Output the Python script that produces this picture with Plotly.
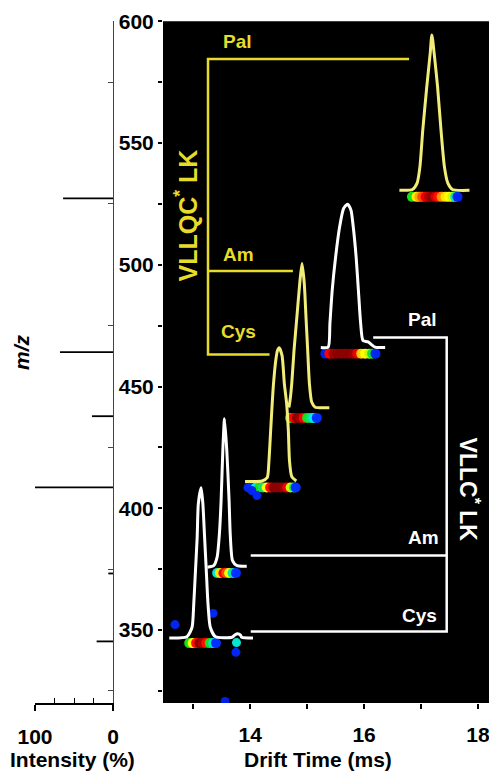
import plotly.graph_objects as go

# ---------------- data ----------------
# Mass spectrum (left panel)
ms_mz = [527.3, 464.1, 437.8, 408.6, 373.2, 345.3]
ms_intensity = [64, 68, 27, 100, 6, 21]

# Arrival-time profiles (drift time in ms, signal drawn in m/z axis units)
yel_pal_t = [16.62, 16.85, 16.93, 16.98, 17.03, 17.10, 17.16, 17.19, 17.23, 17.29, 17.35, 17.41, 17.47, 17.55, 17.85]
yel_pal_y = [530.6, 530.9, 533.5, 540.2, 555.3, 573.1, 586.8, 594.4, 586.8, 573.1, 555.3, 540.2, 533.5, 530.9, 530.6]

wht_pal_t = [15.24, 15.37, 15.40, 15.44, 15.50, 15.57, 15.64, 15.71, 15.77, 15.81, 15.86, 15.90, 15.94, 15.98, 16.07, 16.19, 16.37]
wht_pal_y = [466.0, 466.2, 475.8, 489.5, 503.2, 515.5, 523.1, 524.9, 522.4, 515.5, 503.2, 489.5, 475.8, 468.9, 468.3, 466.2, 466.0]

yel_am_t = [14.68, 14.70, 14.73, 14.77, 14.82, 14.87, 14.91, 14.95, 14.98, 15.01, 15.04, 15.08, 15.14, 15.39]
yel_am_y = [441.4, 444.3, 451.2, 464.8, 478.5, 492.3, 500.5, 492.3, 478.5, 464.8, 451.2, 443.6, 441.5, 441.3]

yel_cys_t = [13.91, 14.21, 14.30, 14.33, 14.36, 14.39, 14.41, 14.45, 14.48, 14.51, 14.56, 14.60, 14.64, 14.67, 14.69, 14.73, 14.81]
yel_cys_y = [411.0, 411.2, 412.6, 419.6, 432.0, 444.3, 451.2, 460.8, 464.8, 465.9, 462.7, 451.2, 443.0, 432.0, 419.6, 413.0, 411.2]

wht_am_t = [13.25, 13.36, 13.42, 13.46, 13.49, 13.52, 13.55, 13.59, 13.63, 13.65, 13.69, 13.77, 13.94]
wht_am_y = [375.8, 376.4, 379.9, 389.5, 403.2, 423.7, 436.8, 423.7, 403.2, 389.5, 378.5, 376.4, 376.2]

wht_cys_t = [12.58, 12.89, 12.98, 13.01, 13.04, 13.07, 13.09, 13.14, 13.17, 13.20, 13.23, 13.26, 13.30, 13.39, 13.68, 13.73, 13.78, 13.83, 13.85, 14.05]
wht_cys_y = [346.7, 347.2, 351.1, 360.7, 374.4, 388.1, 401.8, 408.4, 401.8, 388.1, 374.4, 360.7, 351.1, 347.2, 347.0, 347.9, 348.4, 347.9, 347.0, 346.7]

# Mobility spots (drift time, m/z, relative intensity 0-1)
spotA_mz = 527.9
spotA_t = [16.84, 16.92, 16.97, 17.02, 17.08, 17.14, 17.19, 17.25, 17.30, 17.36, 17.43, 17.49, 17.55, 17.60, 17.64]
spotA_v = [0.50, 0.65, 0.72, 0.80, 0.88, 0.95, 1.00, 0.92, 0.85, 0.74, 0.66, 0.63, 0.60, 0.40, 0.12]

spotB_mz = 463.5
spotB_t = [15.32, 15.39, 15.46, 15.53, 15.60, 15.67, 15.74, 15.81, 15.88, 15.95, 16.02, 16.09, 16.14, 16.20]
spotB_v = [0.10, 0.86, 0.97, 1.00, 1.00, 1.00, 1.00, 0.98, 0.88, 0.68, 0.63, 0.60, 0.48, 0.12]

spotC_mz = 437.1
spotC_t = [14.70, 14.76, 14.82, 14.88, 14.94, 15.00, 15.06, 15.11, 15.17]
spotC_v = [0.50, 0.86, 1.00, 0.97, 0.86, 0.50, 0.45, 0.36, 0.15]

spotD_mz = 408.5
spotD_t = [13.97, 14.03, 14.10, 14.16, 14.22, 14.29, 14.35, 14.41, 14.47, 14.53, 14.59, 14.65, 14.71, 14.77, 14.80]
spotD_v = [0.12, 0.15, 0.35, 0.50, 0.45, 0.63, 0.85, 1.00, 1.00, 1.00, 0.98, 0.88, 0.60, 0.45, 0.15]

spotE_mz = 373.4
spotE_t = [13.42, 13.47, 13.53, 13.58, 13.63, 13.69, 13.75]
spotE_v = [0.38, 0.66, 0.88, 0.80, 0.63, 0.40, 0.15]

spotF_mz = 344.6
spotF_t = [12.93, 12.99, 13.05, 13.11, 13.17, 13.23, 13.29, 13.35, 13.40]
spotF_v = [0.50, 0.63, 0.85, 1.00, 0.95, 0.85, 0.50, 0.38, 0.15]

stray_t = [13.76, 13.75, 12.68, 13.35, 13.56, 14.12, 14.03]
stray_mz = [344.8, 340.8, 352.2, 356.8, 320.6, 405.2, 407.3]
stray_v = [0.38, 0.12, 0.12, 0.12, 0.10, 0.12, 0.12]

# Bracket annotations (ligand series)
yel_labels = ["Pal", "Am", "Cys"]
yel_levels = [584.5, 497.4, 463.1]
yel_ends = [16.79, 14.75, 14.34]
yel_spine = 13.26

wht_labels = ["Pal", "Am", "Cys"]
wht_levels = [470.1, 380.6, 349.4]
wht_starts = [16.16, 14.01, 14.01]
wht_spine = 17.45

x_ticks_dt = [13, 14, 15, 16, 17, 18]
x_ticklabels_dt = ["", "14", "", "16", "", "18"]
y_ticks = [325, 350, 375, 400, 425, 450, 475, 500, 525, 550, 575, 600]
y_ticklabels = ["", "350", "", "400", "", "450", "", "500", "", "550", "", "600"]

# ---------------- styles / layout helpers ----------------
FONT = "Liberation Sans, Arial, sans-serif"
YEL_TXT = "#E8DC2A"
YEL_CURVE = "#F2EC78"
JET = [[0.0, "#0000B4"], [0.15, "#0030FF"], [0.35, "#00E8FF"], [0.5, "#18E018"],
       [0.63, "#FFFF00"], [0.75, "#FF8C00"], [0.86, "#FF0000"], [1.0, "#8C0000"]]

OFF = 8          # page body margin
W, H = 497 - OFF, 773 - OFF


def fx(px):
    return (px - OFF) / W


def fy(py):
    return 1 - (py - OFF) / H


fig = go.Figure()

# left panel spectrum
sx, sy = [], []
for m, i in zip(ms_mz, ms_intensity):
    sx += [0, i, None]
    sy += [m, m, None]
fig.add_trace(go.Scatter(x=sx, y=sy, mode="lines", line=dict(color="black", width=1.8),
                         xaxis="x", yaxis="y", hoverinfo="skip"))

# spots
spots = [(spotA_t, spotA_mz, spotA_v), (spotB_t, spotB_mz, spotB_v), (spotC_t, spotC_mz, spotC_v),
         (spotD_t, spotD_mz, spotD_v), (spotE_t, spotE_mz, spotE_v), (spotF_t, spotF_mz, spotF_v)]
for t, m, v in spots:
    fig.add_trace(go.Scatter(x=t, y=[m] * len(t), mode="markers", xaxis="x2", yaxis="y2",
                             marker=dict(size=10, color=v, colorscale=JET, cmin=0, cmax=1,
                                         line=dict(width=0))))
fig.add_trace(go.Scatter(x=stray_t, y=stray_mz, mode="markers", xaxis="x2", yaxis="y2",
                         marker=dict(size=9, color=stray_v, colorscale=JET, cmin=0, cmax=1,
                                     line=dict(width=0))))

# curves
for t, y, c in [(yel_pal_t, yel_pal_y, YEL_CURVE), (yel_cys_t, yel_cys_y, YEL_CURVE),
                (yel_am_t, yel_am_y, YEL_CURVE), (wht_pal_t, wht_pal_y, "white"),
                (wht_cys_t, wht_cys_y, "white"), (wht_am_t, wht_am_y, "white")]:
    fig.add_trace(go.Scatter(x=t, y=y, mode="lines", xaxis="x2", yaxis="y2",
                             line=dict(color=c, width=3, shape="spline", smoothing=0.6)))

# brackets
bx = [yel_ends[0], yel_spine, yel_spine, yel_ends[2], None, yel_spine, yel_ends[1]]
by = [yel_levels[0], yel_levels[0], yel_levels[2], yel_levels[2], None, yel_levels[1], yel_levels[1]]
fig.add_trace(go.Scatter(x=bx, y=by, mode="lines", xaxis="x2", yaxis="y2",
                         line=dict(color=YEL_TXT, width=2.5)))
wx = [wht_starts[0], wht_spine, wht_spine, wht_starts[2], None, wht_starts[1], wht_spine]
wy = [wht_levels[0], wht_levels[0], wht_levels[2], wht_levels[2], None, wht_levels[1], wht_levels[1]]
fig.add_trace(go.Scatter(x=wx, y=wy, mode="lines", xaxis="x2", yaxis="y2",
                         line=dict(color="white", width=2.5)))

ann = []
yel_lab_pos = [(13.77, 591.5), (13.79, 504.3), (13.79, 472.7)]
for lab, (t, m) in zip(yel_labels, yel_lab_pos):
    ann.append(dict(x=t, y=m, xref="x2", yref="y2", text=lab, showarrow=False,
                    xanchor="center", yanchor="middle",
                    font=dict(family=FONT, size=19, color=YEL_TXT, weight="bold")))
wht_lab_pos = [(17.03, 477.4), (17.05, 387.9), (16.98, 355.9)]
for lab, (t, m) in zip(wht_labels, wht_lab_pos):
    ann.append(dict(x=t, y=m, xref="x2", yref="y2", text=lab, showarrow=False,
                    xanchor="center", yanchor="middle",
                    font=dict(family=FONT, size=19, color="white", weight="bold")))
ann.append(dict(x=12.88, y=520.4, xref="x2", yref="y2", text="VLLQC<sup>*</sup> LK", textangle=-90,
                xanchor="center", yanchor="middle", showarrow=False,
                font=dict(family=FONT, size=25, color=YEL_TXT, weight="bold")))
ann.append(dict(x=17.84, y=407.7, xref="x2", yref="y2", text="VLLC<sup>*</sup> LK", textangle=90,
                xanchor="center", yanchor="middle", showarrow=False,
                font=dict(family=FONT, size=23, color="white", weight="bold")))
ann.append(dict(x=fx(72), y=fy(759), xref="paper", yref="paper", text="Intensity (%)",
                xanchor="center", yanchor="middle", showarrow=False,
                font=dict(family=FONT, size=21, color="black", weight="bold")))
ann.append(dict(x=fx(318), y=fy(759), xref="paper", yref="paper", text="Drift Time (ms)",
                xanchor="center", yanchor="middle", showarrow=False,
                font=dict(family=FONT, size=21, color="black", weight="bold")))
ann.append(dict(x=fx(22), y=fy(352), xref="paper", yref="paper", text="m/z", textangle=-90,
                xanchor="center", yanchor="middle", showarrow=False,
                font=dict(family=FONT, size=21, color="black", weight="bold", style="italic")))

ydom = [fy(703), fy(21.3)]
tickfont = dict(family=FONT, size=21, color="black", weight="bold")

fig.update_layout(
    width=W, height=H, margin=dict(l=0, r=0, t=0, b=0, pad=0, autoexpand=False),
    paper_bgcolor="white", plot_bgcolor="white", showlegend=False,
    annotations=ann,
    shapes=[dict(type="rect", xref="x2 domain", yref="y2 domain", x0=0, x1=1, y0=0, y1=1,
                 fillcolor="black", line=dict(width=0), layer="below")],
    xaxis=dict(domain=[fx(35), fx(113)], range=[100, 0], anchor="y", automargin=False,
               showgrid=False, zeroline=False, showline=True, linecolor="black", linewidth=1.5,
               tickmode="array", tickvals=[0, 100], ticktext=["0", "100"], ticks="outside",
               ticklen=6, tickwidth=1.5, tickcolor="black", tickfont=tickfont, ticklabelstandoff=8,
               minor=dict(tickmode="array", tickvals=[25, 50, 75], ticks="inside", ticklen=5,
                          tickwidth=1, tickcolor="black")),
    yaxis=dict(domain=ydom, range=[320, 600], anchor="x", side="right", automargin=False,
               showgrid=False, zeroline=False, showline=True, linecolor="#444", linewidth=1,
               tickmode="array", tickvals=[325, 375, 425, 475, 525, 575], ticks="inside",
               ticklen=5, tickcolor="#444", showticklabels=False),
    xaxis2=dict(domain=[fx(163), fx(491.7)], range=[12.47, 18.24], anchor="y2", automargin=False,
                showgrid=False, zeroline=False, showline=False,
                tickmode="array", tickvals=x_ticks_dt, ticktext=x_ticklabels_dt, ticks="outside",
                ticklen=5, tickwidth=1.5, tickcolor="black", tickfont=tickfont, ticklabelstandoff=8),
    yaxis2=dict(domain=ydom, range=[320, 600], anchor="x2", automargin=False,
                showgrid=False, zeroline=False, showline=False,
                tickmode="array", tickvals=y_ticks, ticktext=y_ticklabels, ticks="outside",
                ticklen=4, tickwidth=1.5, tickcolor="black", tickfont=tickfont),
)

fig.write_html("out.html")
